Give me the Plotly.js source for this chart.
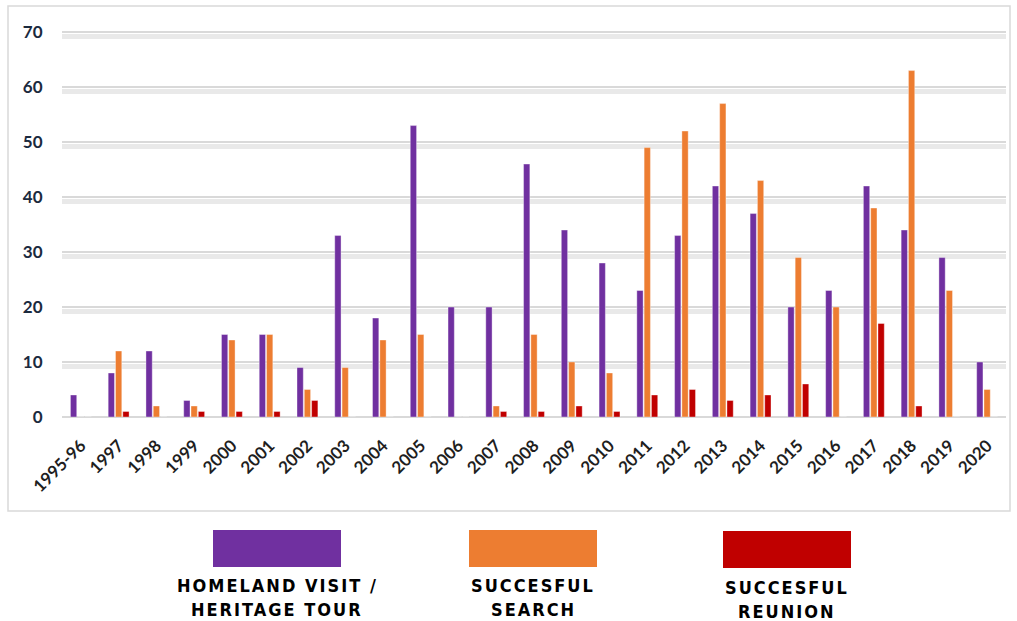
<!DOCTYPE html>
<html>
<head>
<meta charset="utf-8">
<script src="https://cdn.plot.ly/plotly-3.0.1.min.js"></script>
<style>
  html, body { margin: 0; padding: 0; background: #fff; }
  #chart { width: 1017px; height: 621px; }
  .annotation-text { letter-spacing: 2px; }
</style>
</head>
<body>
<div id="chart"></div>
<script>
// ---- data ----
const years = ["1995-96","1997","1998","1999","2000","2001","2002","2003","2004","2005","2006","2007","2008","2009","2010","2011","2012","2013","2014","2015","2016","2017","2018","2019","2020"];
const homelandVisit = [4,8,12,3,15,15,9,33,18,53,20,20,46,34,28,23,33,42,37,20,23,42,34,29,10];
const successfulSearch = [0,12,2,2,14,15,5,9,14,15,0,2,15,10,8,49,52,57,43,29,20,38,63,23,5];
const successfulReunion = [0,1,0,1,1,1,3,0,0,0,0,1,1,2,1,4,5,3,4,6,0,17,2,0,0];
const seriesNames = ["HOMELAND VISIT / HERITAGE TOUR", "SUCCESFUL SEARCH", "SUCCESFUL REUNION"];
const legendLines = [["HOMELAND VISIT /", "HERITAGE TOUR"], ["SUCCESFUL", "SEARCH"], ["SUCCESFUL", "REUNION"]];
const yTicks = [0,10,20,30,40,50,60,70];

// ---- styles ----
const colors = ["#7030A0", "#ED7D31", "#C00000"];
const values = [homelandVisit, successfulSearch, successfulReunion];

const traces = values.map((v, i) => ({
  type: 'bar',
  x: years,
  y: v,
  name: seriesNames[i],
  marker: { color: colors[i], line: { width: 0.6, color: 'rgba(255,255,255,0.6)' } },
  showlegend: false,
  hoverinfo: 'x+y'
}));
// helper trace so the shadow grid axis is drawn
traces.push({ type: 'scatter', x: [], y: [], yaxis: 'y2', showlegend: false, hoverinfo: 'skip' });

// legend (drawn manually, positions in paper coordinates)
const W = 944, L = 62, B = 417, T = 31;
const H = B - T;
const px = x => (x - L) / W;
const py = y => (B - y) / H;
const swatchX = [[213, 341], [469, 597], [723, 851]];
const swatchY = [[530, 567], [530, 567], [531, 568]];
const lineY = [[585, 609], [585, 609], [587, 611]];

const shapes = [
  { type: 'rect', xref: 'paper', yref: 'paper', x0: px(8), x1: px(1010), y0: py(511), y1: py(6),
    line: { color: '#d9d9d9', width: 1.5 }, fillcolor: 'rgba(0,0,0,0)', layer: 'below' }
];
const annotations = [];
legendLines.forEach((lines, i) => {
  shapes.push({ type: 'rect', xref: 'paper', yref: 'paper',
    x0: px(swatchX[i][0]), x1: px(swatchX[i][1]), y0: py(swatchY[i][1]), y1: py(swatchY[i][0]),
    line: { width: 0 }, fillcolor: colors[i] });
  lines.forEach((t, j) => {
    annotations.push({ xref: 'paper', yref: 'paper', x: px((swatchX[i][0] + swatchX[i][1]) / 2),
      y: py(lineY[i][j]), xanchor: 'center', yanchor: 'middle', showarrow: false, align: 'center',
      text: t, font: { family: 'DejaVu Sans Condensed, DejaVu Sans', size: 18, weight: 'bold', color: '#000' } });
  });
});

const layout = {
  width: 1017, height: 621,
  margin: { l: L, r: 11, t: T, b: 621 - B },
  paper_bgcolor: '#fff', plot_bgcolor: '#fff',
  barmode: 'group', bargap: 0.42, bargroupgap: 0.14,
  xaxis: {
    type: 'category', tickangle: -45,
    tickfont: { family: 'Lato, Open Sans, sans-serif', size: 17, weight: 'bold', color: '#1e1e1e' },
    showgrid: false, showline: false, zeroline: false,
    ticks: 'outside', ticklen: 11, tickcolor: 'rgba(0,0,0,0)'
  },
  yaxis: {
    range: [0, 70.2], tickvals: yTicks, ticktext: yTicks.map(String),
    tickfont: { family: 'Lato, Open Sans, sans-serif', size: 17, weight: 'bold', color: '#1b2a3e' },
    showgrid: true, gridcolor: '#d9d9d9', gridwidth: 1.5,
    zeroline: true, zerolinecolor: '#d9d9d9', zerolinewidth: 1.5,
    ticks: 'outside', ticklen: 15, tickcolor: 'rgba(0,0,0,0)', showline: false
  },
  yaxis2: {
    overlaying: 'y', side: 'left', range: [0.75, 70.95], tickvals: yTicks.slice(1),
    showticklabels: false, showgrid: true, gridcolor: 'rgba(0,0,0,0.085)', gridwidth: 5,
    zeroline: false, showline: false, ticks: ''
  },
  shapes: shapes,
  annotations: annotations
};

Plotly.newPlot('chart', traces, layout, { displayModeBar: false, staticPlot: true });
</script>
</body>
</html>
